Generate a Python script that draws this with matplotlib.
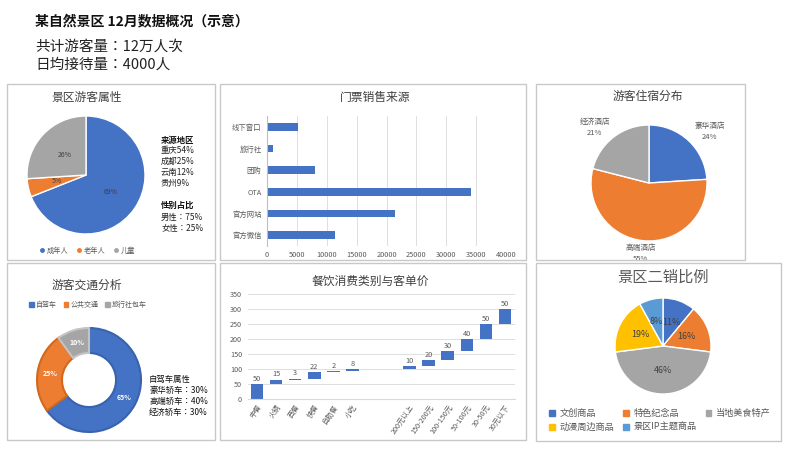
import numpy as np
import matplotlib
matplotlib.use('Agg')
import matplotlib.pyplot as plt
from matplotlib.patches import Rectangle, Patch
from matplotlib.lines import Line2D

plt.rcParams['font.family'] = ['Noto Sans CJK SC', 'DejaVu Sans']
# TC variant centres the fullwidth colon, like the reference
COLON_FONT = ['Noto Sans CJK TC', 'DejaVu Sans']

W, H = 800, 450
BLUE, ORANGE, GRAY, GOLD, LBLUE = '#4472C4', '#ED7D31', '#A5A5A5', '#FFC000', '#5B9BD5'
TXT = '#595959'

# ---- data ----
total_visitors = '12万人次'
daily_visitors = 4000

age_labels = ['成年人', '老年人', '儿童']
age_pct = [69, 5, 26]
src_regions = ['重庆', '成都', '云南', '贵州']
src_pct = [54, 25, 12, 9]
gender = ['男性', '女性']
gender_pct = [75, 25]

ticket_src = ['官方微信', '官方网站', 'OTA', '团购', '旅行社', '线下窗口']
ticket_num = [11400, 21500, 34100, 8100, 1000, 5200]

hotel_labels = ['豪华酒店', '高端酒店', '经济酒店']
hotel_pct = [24, 55, 21]

traffic_labels = ['自驾车', '公共交通', '旅行社包车']
traffic_pct = [65, 25, 10]
car_types = ['豪华轿车', '高端轿车', '经济轿车']
car_pct = [30, 40, 30]

food_cats = ['中餐', '火锅', '西餐', '快餐', '自助餐', '小吃']
food_vals = [50, 15, 3, 22, 2, 8]
price_cats = ['200元以上', '150-200元', '100-150元', '50-100元', '30-50元', '30元以下']
price_vals = [10, 20, 30, 40, 50, 50]

goods_labels = ['文创商品', '特色纪念品', '当地美食特产', '动漫周边商品', '景区IP主题商品']
goods_pct = [11, 16, 46, 19, 8]

fig = plt.figure(figsize=(8, 4.5), dpi=100)


def px_axes(x0, y0, x1, y1):
    return fig.add_axes([x0 / W, 1 - y1 / H, (x1 - x0) / W, (y1 - y0) / H])


def ftext(x, y, s, **kw):
    kw.setdefault('va', 'center')
    return fig.text(x / W, 1 - y / H, s, **kw)


def panel(x0, y0, x1, y1):
    fig.patches.append(Rectangle((x0 / W, 1 - y1 / H), (x1 - x0) / W, (y1 - y0) / H,
                                 transform=fig.transFigure, fill=False,
                                 edgecolor='#c8c8c8', lw=1))


def pie_axes(cx, cy, r):
    return px_axes(cx - r, cy - r, cx + r, cy + r)


def fix_pie(ax):
    ax.set_xlim(-1, 1)
    ax.set_ylim(-1, 1)
    ax.axis('off')


# header
ftext(35, 21, '某自然景区 12月数据概况（示意）', fontsize=10, fontweight='bold', color='#111111')
ftext(35, 47, '共计游客量：' + total_visitors, fontsize=10.5, color='#222222', family=COLON_FONT)
ftext(35, 65, '日均接待量：%d人' % daily_visitors, fontsize=10.5, color='#222222', family=COLON_FONT)

# panels
panel(7, 84, 215, 260)
panel(220, 84, 526, 260)
panel(536, 84, 745, 260)
panel(7, 263, 215, 440)
panel(220, 263, 526, 440)
panel(536, 263, 781, 441)

# ---- 1. 景区游客属性 ----
ftext(87, 97, '景区游客属性', fontsize=8.5, ha='center', color='#404040')
ax = pie_axes(86, 175, 59)
ax.pie(age_pct, colors=[BLUE, ORANGE, GRAY], startangle=90, counterclock=False,
       autopct='%d%%', pctdistance=0.5, radius=1,
       wedgeprops=dict(edgecolor='white', lw=1),
       textprops=dict(fontsize=5, color='#404040'))
fix_pie(ax)
fig.legend([Line2D([], [], marker='o', ls='', color=c, markersize=2.5) for c in [BLUE, ORANGE, GRAY]],
           age_labels, loc='center', bbox_to_anchor=(87 / W, 1 - 251 / H), ncol=3,
           frameon=False, fontsize=5.2, handlelength=0.8, handletextpad=0.3,
           columnspacing=1.0, labelcolor=TXT)
ftext(161, 140, '来源地区', fontsize=6, fontweight='bold', color='#111111')
for i, (r, p) in enumerate(zip(src_regions, src_pct)):
    ftext(161, 151 + i * 10.7, '%s%d%%' % (r, p), fontsize=6, color='#222222')
ftext(161, 205, '性别占比', fontsize=6, fontweight='bold', color='#111111')
for i, (g, p) in enumerate(zip(gender, gender_pct)):
    ftext(161, 217 + i * 11, '%s：%d%%' % (g, p), fontsize=6, color='#222222', family=COLON_FONT)

# ---- 2. 门票销售来源 ----
ftext(375, 98, '门票销售来源', fontsize=8.5, ha='center', color='#404040')
ax = px_axes(267, 116, 506, 246)
ax.barh(np.arange(len(ticket_src)), ticket_num, height=0.36, color=BLUE)
ax.set_xlim(0, 40000)
ax.set_ylim(-0.5, len(ticket_src) - 0.5)
ax.set_xticks(range(0, 40001, 5000))
ax.set_yticks(np.arange(len(ticket_src)))
ax.set_yticklabels(ticket_src)
ax.grid(axis='x', color='#d9d9d9', lw=0.6)
ax.set_axisbelow(True)
for s in ['top', 'right', 'bottom']:
    ax.spines[s].set_visible(False)
ax.spines['left'].set_color('#bfbfbf')
ax.tick_params(length=0, labelsize=5.3, colors=TXT)
ax.tick_params(axis='x', pad=3.5)
ax.tick_params(axis='y', pad=4)

# ---- 3. 游客住宿分布 ----
ftext(648, 96, '游客住宿分布', fontsize=8.5, ha='center', color='#404040')
ax = pie_axes(649, 183, 58)
wedges, texts = ax.pie(hotel_pct, colors=[BLUE, ORANGE, GRAY], startangle=90, counterclock=False,
                       labels=['%s\n%d%%' % (l, p) for l, p in zip(hotel_labels, hotel_pct)],
                       labeldistance=1.22, radius=1,
                       wedgeprops=dict(edgecolor='white', lw=1),
                       textprops=dict(fontsize=5.5, color=TXT, linespacing=1.5))
for t in texts:
    x, y = t.get_position()
    t.set_position((x * 1.25, y))
    t.set_ha('center')
    t.set_va('center')
fix_pie(ax)

# ---- 4. 游客交通分析 ----
ftext(87, 285, '游客交通分析', fontsize=8.5, ha='center', color='#404040')
fig.legend([Patch(color=c) for c in [BLUE, ORANGE, GRAY]], traffic_labels,
           loc='center', bbox_to_anchor=(88 / W, 1 - 305 / H), ncol=3, frameon=False,
           fontsize=5, handlelength=0.7, handleheight=0.7, handletextpad=0.3,
           columnspacing=0.9, labelcolor=TXT)
ax = pie_axes(89, 380, 52)
wedges, texts, autotexts = ax.pie(traffic_pct, colors=[BLUE, ORANGE, GRAY], startangle=90,
                                  counterclock=False, autopct='%d%%', pctdistance=0.76, radius=1,
                                  wedgeprops=dict(width=0.48, lw=1.5),
                                  textprops=dict(fontsize=5, color='white', fontweight='bold'))
for w, ec in zip(wedges, ['#3A63AD', '#D0691F', '#C4C4C4']):
    w.set_edgecolor(ec)
fix_pie(ax)
ftext(149, 379, '自驾车属性', fontsize=6, color='#111111')
for i, (c, p) in enumerate(zip(car_types, car_pct)):
    ftext(149, 390 + i * 11, '%s：%d%%' % (c, p), fontsize=6, color='#111111', family=COLON_FONT)

# ---- 5. 餐饮消费类别与客单价 ----
ftext(370, 281, '餐饮消费类别与客单价', fontsize=8.5, ha='center', color='#404040')
ax = px_axes(247.5, 294, 514.5, 399)
vals = food_vals + price_vals
cats = food_cats + price_cats
xs = np.concatenate([np.arange(len(food_cats)), np.arange(len(price_cats)) + len(food_cats) + 2])
bottoms = np.concatenate([[0], np.cumsum(vals)[:-1]])
ax.bar(xs, vals, bottom=bottoms, width=0.66, color=BLUE)
for x, b, v in zip(xs, bottoms, vals):
    ax.annotate(str(v), (x, b + v), xytext=(0, 1), textcoords='offset points',
                ha='center', va='bottom', fontsize=5.3, color=TXT)
ax.set_xlim(-0.5, xs[-1] + 0.5)
ax.set_ylim(0, 350)
ax.set_yticks(range(0, 351, 50))
ax.set_xticks(xs)
ax.set_xticklabels(cats, rotation=55, ha='right', rotation_mode='anchor')
ax.grid(axis='y', color='#d9d9d9', lw=0.6)
ax.set_axisbelow(True)
for s in ['top', 'right', 'left']:
    ax.spines[s].set_visible(False)
ax.spines['bottom'].set_color('#d9d9d9')
ax.tick_params(length=0, labelsize=5.2, colors=TXT)
ax.tick_params(axis='x', pad=3)
ax.tick_params(axis='y', pad=4)

# ---- 6. 景区二销比例 ----
ftext(663, 277, '景区二销比例', fontsize=11, ha='center', color=TXT)
goods_colors = [BLUE, ORANGE, GRAY, GOLD, LBLUE]
ax = pie_axes(663, 346, 48)
ax.pie(goods_pct, colors=goods_colors, startangle=90, counterclock=False,
       autopct='%d%%', pctdistance=0.52, radius=1,
       wedgeprops=dict(edgecolor='white', lw=1),
       textprops=dict(fontsize=6.5, color='#404040'))
fix_pie(ax)
order = [0, 3, 1, 4, 2]
fig.legend([Patch(color=goods_colors[i]) for i in order], [goods_labels[i] for i in order],
           loc='center', bbox_to_anchor=(660 / W, 1 - 420.5 / H), ncol=3, frameon=False,
           fontsize=6.6, handlelength=0.6, handleheight=0.6, handletextpad=0.5,
           columnspacing=1.0, labelspacing=0.55, labelcolor=TXT)

fig.savefig('out.png', dpi=100)
